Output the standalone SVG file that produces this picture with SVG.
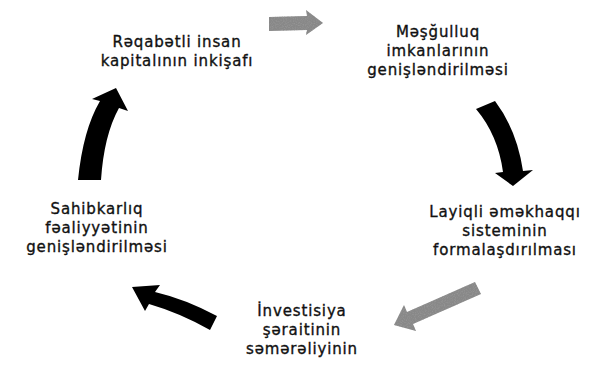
<svg xmlns="http://www.w3.org/2000/svg" width="592" height="365" viewBox="0 0 592 365">
<defs>
<style>
text{font-family:"DejaVu Sans","Open Sans",sans-serif;font-size:15px;letter-spacing:0.85px;fill:#111;stroke:#111;stroke-width:0.35px;text-anchor:middle}
.blk{fill:#000}
.gry{fill:#888}
</style>
<filter id="grain" x="-10%" y="-10%" width="120%" height="120%">
<feTurbulence type="fractalNoise" baseFrequency="0.9" numOctaves="2" seed="3" result="n"/>
<feColorMatrix in="n" type="matrix" values="0 0 0 0 0.3  0 0 0 0 0.3  0 0 0 0 0.3  0 0 0 -2.4 1.4" result="m"/>
<feComposite in="m" in2="SourceGraphic" operator="in" result="t"/>
<feMerge><feMergeNode in="SourceGraphic"/><feMergeNode in="t"/></feMerge>
</filter>
</defs>
<rect width="592" height="365" fill="#fff"/>
<g id="connectors">
<path class="gry" filter="url(#grain)" d="M269,17 L307,16 L306,10 L323,23 L306,35 L307,30 L269,31 Z"/>
<path class="blk" d="M476,109 L495,101 Q517,130 523,171 L533,170 L513,186 L495,173 L503,172 Q498,135 476,109 Z"/>
<path class="gry" filter="url(#grain)" d="M475,282 L481,294 L413,324 L416,331 L394,325 L404,305 L407,312 Z"/>
<path class="blk" d="M155,292 Q185,299 217,316 L210,330 Q180,313 149,304 L145,311 L132,287 L160,285 Z"/>
<path class="blk" d="M78,180 Q83,130 100,101 L92,99 L116,88 L128,111 L119,108 Q104,135 101,180 Z"/>
</g>
<g id="node-kapital">
<text x="177" y="47">Rəqabətli insan</text>
<text x="177" y="66">kapitalının inkişafı</text>
</g>
<g id="node-masgulluq">
<text x="438" y="37">Məşğulluq</text>
<text x="438" y="56">imkanlarının</text>
<text x="438" y="75">genişləndirilməsi</text>
</g>
<g id="node-emekhaqqi">
<text x="505" y="217">Layiqli əməkhaqqı</text>
<text x="505" y="236">sisteminin</text>
<text x="505" y="255">formalaşdırılması</text>
</g>
<g id="node-investisiya">
<text x="302" y="316">İnvestisiya</text>
<text x="302" y="335">şəraitinin</text>
<text x="302" y="354">səmərəliyinin</text>
</g>
<g id="node-sahibkarliq">
<text x="97" y="214">Sahibkarlıq</text>
<text x="97" y="233">fəaliyyətinin</text>
<text x="97" y="252">genişləndirilməsi</text>
</g>
</svg>
